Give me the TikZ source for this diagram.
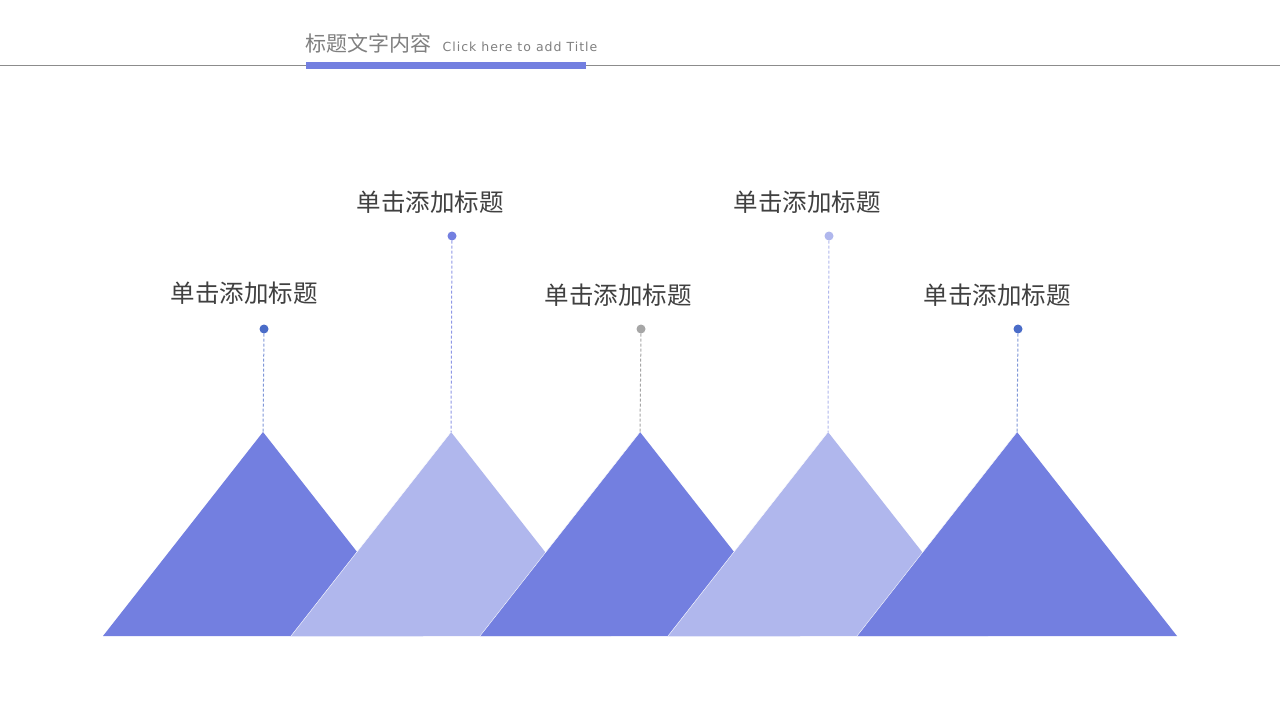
\documentclass[tikz,border=0pt]{standalone}
\usepackage{fontspec}
\setmainfont{Noto Sans CJK SC}
\newfontfamily\latinfont[LetterSpace=8]{DejaVu Sans}
\usepackage{xcolor}
\usepackage{tikz}
\usetikzlibrary{calc}

\definecolor{mainblue}{HTML}{737FE0}
\definecolor{paleblue}{HTML}{B0B7ED}
\definecolor{deepblue}{HTML}{4A6CC8}
\definecolor{dotgray}{HTML}{A6A6A6}
\definecolor{textgray}{HTML}{404040}

\tikzset{
  label/.style={text=textgray, font=\fontsize{24.5}{28}\selectfont, inner sep=0pt},
  dot/.style={circle, inner sep=0pt, minimum size=9pt},
  stem/.style={dashed, dash pattern=on 3pt off 2pt, line width=1pt}
}

\begin{document}
\begin{tikzpicture}[x=1pt,y=-1pt]
    \useasboundingbox[fill=white] (0,0) rectangle (1280,720);

    % header
    \draw[gray!90, line width=0.8pt] (0,65) -- (1280,65);
    \fill[mainblue] (306,62) rectangle (586,69);
    \node[anchor=west, text=gray, inner sep=0pt, font=\fontsize{21}{25}\selectfont] (head) at (305,43) {标题文字内容};
    \node[anchor=base west, text=gray, inner sep=0pt, font=\latinfont\fontsize{12.5}{15}\selectfont] (sub) at ($(head.base east)+(11,0)$) {Click here to add Title};

    % apexes
    \coordinate (a1) at (263,432);
    \coordinate (a2) at (451,432);
    \coordinate (a3) at (640,432);
    \coordinate (a4) at (828,432);
    \coordinate (a5) at (1017,432);

    % triangles
    \fill[mainblue] (103,636) -- (a1) -- (423,636) -- cycle;
    \fill[paleblue] (291,636) -- (a2) -- (611,636) -- cycle;
    \draw[white] (291,636) -- (a2);
    \fill[mainblue] (480,636) -- (a3) -- (800,636) -- cycle;
    \draw[white] (480,636) -- (a3);
    \fill[paleblue] (668,636) -- (a4) -- (988,636) -- cycle;
    \draw[white] (668,636) -- (a4);
    \fill[mainblue] (857,636) -- (a5) -- (1177,636) -- cycle;
    \draw[white] (857,636) -- (a5);

    % dots
    \node[dot, fill=deepblue] (d1) at (264,329) {};
    \node[dot, fill=mainblue] (d2) at (452,236) {};
    \node[dot, fill=dotgray] (d3) at (641,329) {};
    \node[dot, fill=paleblue] (d4) at (829,236) {};
    \node[dot, fill=deepblue] (d5) at (1018,329) {};

    \draw[stem, deepblue!70] (d1) -- (a1);
    \draw[stem, mainblue!80] (d2) -- (a2);
    \draw[stem, dotgray] (d3) -- (a3);
    \draw[stem, paleblue] (d4) -- (a4);
    \draw[stem, deepblue!70] (d5) -- (a5);

    % titles
    \node[label] (t1) at (244,293) {单击添加标题};
    \node[label] (t2) at (430,202) {单击添加标题};
    \node[label] (t3) at (618,295) {单击添加标题};
    \node[label] (t4) at (807,202) {单击添加标题};
    \node[label] (t5) at (997,295) {单击添加标题};
  \end{tikzpicture}
\end{document}
